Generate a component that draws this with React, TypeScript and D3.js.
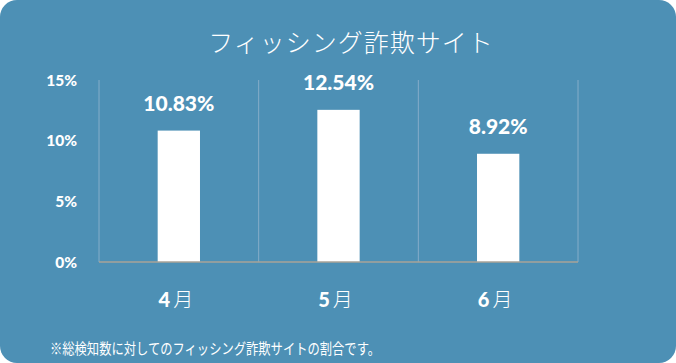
import React from "react";
import * as d3 from "d3";

const months = ["4月", "5月", "6月"];
const monthNums = ["4", "5", "6"];
const values = [10.83, 12.54, 8.92];
const valueLabels = ["10.83%", "12.54%", "8.92%"];
const yTicks = [0, 5, 10, 15];
const title = "フィッシング詐欺サイト";
const footnote = "※総検知数に対してのフィッシング詐欺サイトの割合です。";

const W = 676;
const H = 363;
const BG = "#4d90b5";
const JP = "'Noto Sans CJK JP', 'Noto Sans', sans-serif";
const NUM = "Lato, 'Open Sans', sans-serif";

export default function App() {
  const x = d3.scaleBand<string>().domain(months).range([99, 578]).padding(0);
  const y = d3.scaleLinear().domain([0, 15]).range([262, 80]);
  const bw = x.bandwidth() * 0.265;
  const edges = [...months.map((m) => x(m) as number), 578];

  return (
    <svg width={W} height={H} style={{ position: "absolute", left: 0, top: 0 }}>
      <rect x={0} y={0} width={W} height={H} fill="#ffffff" />
      <rect x={0} y={0} width={W} height={H} rx={17} ry={17} fill={BG} />
      <text x={351} y={52} textAnchor="middle" fill="#ffffff" fontFamily={JP} fontWeight={300} fontSize={25} letterSpacing={1}>
        {title}
      </text>
      {edges.map((e, i) => (
        <line key={i} x1={e} x2={e} y1={y(15)} y2={y(0)} stroke="#85adc9" strokeWidth={1} />
      ))}
      {yTicks.map((t) => (
        <text key={t} x={77} y={y(t)} dy="0.36em" textAnchor="end" fill="#ffffff" fontFamily={NUM} fontWeight={900} fontSize={15.5}>
          {t}%
        </text>
      ))}
      {months.map((m, i) => {
        const cx = (x(m) as number) + x.bandwidth() / 2;
        return (
          <g key={m}>
            <rect x={cx - bw / 2} y={y(values[i])} width={bw} height={y(0) - y(values[i])} fill="#ffffff" />
            <text x={cx} y={y(values[i]) - 27} dy="0.36em" textAnchor="middle" fill="#ffffff" fontFamily={NUM} fontWeight={900} fontSize={21}>
              {valueLabels[i]}
            </text>
            <text x={cx - 3} y={300} dy="0.36em" textAnchor="middle" fill="#ffffff" fontSize={20}>
              <tspan fontFamily={NUM} fontWeight={900}>{monthNums[i]}</tspan>
              <tspan fontFamily={JP} fontWeight={300} dx={3}>月</tspan>
            </text>
          </g>
        );
      })}
      <line x1={99} x2={578} y1={y(0)} y2={y(0)} stroke="#a8a398" strokeWidth={1.5} />
      <text x={50} y={348.5} dy="0.36em" fill="#ffffff" fontFamily={JP} fontWeight={400} fontSize={15} textLength={330} lengthAdjust="spacingAndGlyphs">
        {footnote}
      </text>
    </svg>
  );
}
